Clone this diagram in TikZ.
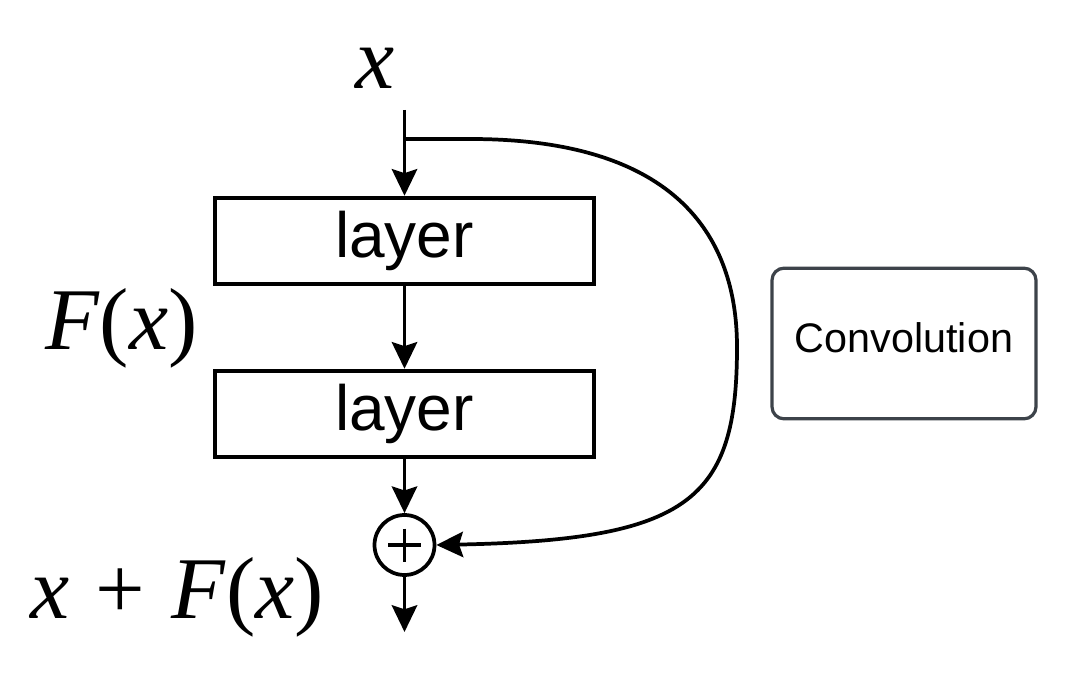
\documentclass[tikz,border=0pt]{standalone}
\usepackage{fontspec}
\setmainfont{Liberation Serif}
\newfontfamily\sansfam{Liberation Sans}
\usetikzlibrary{arrows.meta}
\definecolor{convgray}{HTML}{3D434A}
\tikzset{
  arr/.style={line width=2.8pt, -{Stealth[length=20pt, width=19pt, inset=3pt]}},
  layerbox/.style={draw, line width=2.8pt, minimum width=284pt, minimum height=65pt, inner sep=0pt,
    font=\sansfam\fontsize{48}{56}\selectfont},
  convbox/.style={draw=convgray, line width=2.4pt, rounded corners=9pt, minimum width=198pt,
    minimum height=113pt, inner sep=0pt, text depth=9pt, font=\sansfam\fontsize{31}{36}\selectfont},
  sumnode/.style={draw, circle, line width=2.8pt, minimum size=45pt, inner sep=0pt},
  mathlbl/.style={inner sep=0pt, font=\fontsize{66}{72}\selectfont}
}
\begin{document}
\begin{tikzpicture}[x=0.75pt, y=-0.75pt]
\useasboundingbox (0,0) rectangle (1071,681);
% labels
\node[mathlbl, anchor=base] (xlab) at (375,89) {\textit{x}};
\node[mathlbl, anchor=base west] (flab) at (45,349) {\textit{F}(\textit{x})};
\node[mathlbl, anchor=base west] (sumlab) at (30,618) {\textit{x}\hspace{0.3em}+\hspace{0.3em}\textit{F}(\textit{x})};
% boxes
\node[layerbox] (l1) at (404.5,241) {layer};
\node[layerbox] (l2) at (404.5,414) {layer};
\node[sumnode] (sum) at (404.5,545) {};
\draw[line width=2.8pt] (sum.center) ++(-16.5,0) -- ++(33,0);
\draw[line width=2.8pt] (sum.center) ++(0,-16.5) -- ++(0,33);
\node[convbox] (conv) at (904,343.5) {Convolution};
% connectors
\coordinate (xin) at (404.5,110);
\coordinate (br) at (404.5,139);
\coordinate (out) at (404.5,632);
\draw[arr] (xin) -- (l1.north);
\draw[arr] (l1.south) -- (l2.north);
\draw[arr] (l2.south) -- (sum.north);
\draw[arr] (sum.south) -- (out);
\draw[arr] (br) -- ++(66,0) .. controls (690,139) and (737,250) .. (737,347)
  .. controls (737,500) and (690,540) .. (sum.east);
\end{tikzpicture}
\end{document}
